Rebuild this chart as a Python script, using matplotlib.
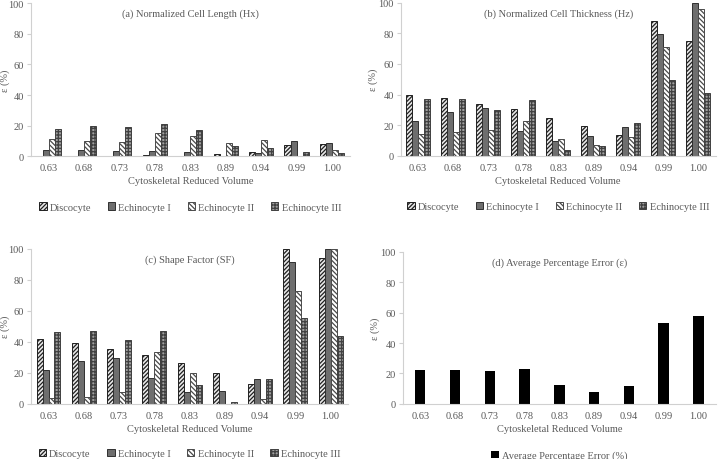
#!/usr/bin/env python3
"""Percentage error vs cytoskeletal reduced volume, four panels."""
import matplotlib
matplotlib.use("Agg")
import matplotlib.pyplot as plt
import numpy as np

volumes = ["0.63", "0.68", "0.73", "0.78", "0.83", "0.89", "0.94", "0.99", "1.00"]
shapes = ["Discocyte", "Echinocyte I", "Echinocyte II", "Echinocyte III"]

# (a) normalized cell length
length_disc = [0.5, 0.2, 0.5, 0.7, 0.2, 1.5, 2.5, 7.5, 8.0]
length_ech1 = [4.1, 4.0, 3.5, 3.5, 2.5, 0.0, 2.0, 10.0, 9.0]
length_ech2 = [11.0, 9.8, 9.5, 15.0, 13.0, 9.0, 10.5, 0.0, 4.0]
length_ech3 = [17.8, 19.8, 19.0, 21.0, 17.0, 6.5, 5.5, 2.8, 2.0]

# (b) normalized cell thickness
thick_disc = [39.5, 37.5, 34.0, 30.5, 24.5, 19.5, 13.5, 88.0, 75.0]
thick_ech1 = [22.5, 28.5, 31.0, 16.0, 9.5, 13.0, 19.0, 79.5, 100.0]
thick_ech2 = [14.5, 15.5, 17.0, 23.0, 11.0, 7.0, 12.0, 71.0, 96.0]
thick_ech3 = [37.0, 37.0, 30.0, 36.5, 3.5, 6.5, 21.5, 49.5, 41.0]

# (c) shape factor
sf_disc = [41.5, 39.5, 35.5, 31.5, 26.0, 20.0, 12.5, 100.0, 94.0]
sf_ech1 = [22.0, 27.5, 29.5, 16.5, 7.5, 8.0, 16.0, 91.5, 100.0]
sf_ech2 = [4.0, 4.5, 7.5, 33.5, 20.0, 0.0, 3.0, 72.5, 100.0]
sf_ech3 = [46.0, 47.0, 41.0, 47.0, 12.0, 1.2, 16.0, 55.5, 44.0]

# (d) average percentage error
avg_error = [22.0, 22.5, 21.5, 23.0, 12.5, 8.0, 11.5, 53.5, 58.0]

plt.rcParams["font.family"] = ["Liberation Serif", "DejaVu Serif"]
plt.rcParams["hatch.linewidth"] = 0.9
TEXT = "#595959"
AXIS = "#d0d0d0"

styles = [
    dict(facecolor="#e8e8e8", edgecolor="#202020", hatch="////////"),
    dict(facecolor="#6e6e6e", edgecolor="#303030", hatch=None),
    dict(facecolor="white", edgecolor="#4a4a4a", hatch="\\\\\\\\\\\\\\"),
    dict(facecolor="#a0a0a0", edgecolor="#404040", hatch="+++++"),
]


def _style_axes(ax, title, ylabel_x):
    for side in ("top", "right"):
        ax.spines[side].set_visible(False)
    for side in ("left", "bottom"):
        ax.spines[side].set_color(AXIS)
        ax.spines[side].set_linewidth(0.8)
    ax.set_ylim(0, 100)
    ax.set_yticks(np.arange(0, 101, 20))
    ax.tick_params(axis="y", length=3, color=AXIS, labelsize=7.5, labelcolor=TEXT, pad=2)
    ax.tick_params(axis="x", length=0, labelsize=7.5, labelcolor=TEXT, pad=5)
    ax.set_xlim(-0.5, len(volumes) - 0.5)
    ax.set_xticks(np.arange(len(volumes)))
    ax.set_xticklabels(volumes)
    ax.set_xlabel("Cytoskeletal Reduced Volume", fontsize=7.5, color=TEXT, labelpad=3)
    ax.set_ylabel("ε (%)", fontsize=7.5, color=TEXT)
    ax.yaxis.set_label_coords(ylabel_x, 0.5)
    ax.text(0.5, 0.965, title, transform=ax.transAxes, ha="center", va="top",
            fontsize=7.5, color=TEXT)


def _grouped(ax, series, title, legend_y, ylabel_x):
    x = np.arange(len(volumes))
    width = 0.17
    handles = []
    for i, (values, style) in enumerate(zip(series, styles)):
        h = ax.bar(x + (i - 1.5) * width, values, width, linewidth=0.7, label=shapes[i], **style)
        handles.append(h)
    _style_axes(ax, title, ylabel_x)
    ax.legend(handles=handles, loc="center", bbox_to_anchor=(0.5, legend_y), ncol=4,
              frameon=False, fontsize=7.5, labelcolor=TEXT, handlelength=0.7,
              handleheight=0.7, handletextpad=0.3, columnspacing=1.6)


fig = plt.figure(figsize=(7.18, 4.6), dpi=100)
ax_a = fig.add_axes([0.043, 0.658, 0.444, 0.333])
ax_b = fig.add_axes([0.558, 0.659, 0.439, 0.333])
ax_c = fig.add_axes([0.043, 0.120, 0.442, 0.337])
ax_d = fig.add_axes([0.561, 0.120, 0.436, 0.330])

_grouped(ax_a, [length_disc, length_ech1, length_ech2, length_ech3],
         "(a) Normalized Cell Length (Hx)", -0.33, -0.066)
_grouped(ax_b, [thick_disc, thick_ech1, thick_ech2, thick_ech3],
         "(b) Normalized Cell Thickness (Hz)", -0.33, -0.072)
_grouped(ax_c, [sf_disc, sf_ech1, sf_ech2, sf_ech3],
         "(c) Shape Factor (SF)", -0.32, -0.066)

x = np.arange(len(volumes))
ax_d.bar(x, avg_error, 0.3, color="black", label="Average Percentage Error (%)")
_style_axes(ax_d, "(d) Average Percentage Error (ε)", -0.072)
ax_d.legend(loc="center", bbox_to_anchor=(0.5, -0.34), frameon=False, fontsize=7.5,
            labelcolor=TEXT, handlelength=0.7, handleheight=0.7, handletextpad=0.3)

fig.savefig("out.png", dpi=100)
